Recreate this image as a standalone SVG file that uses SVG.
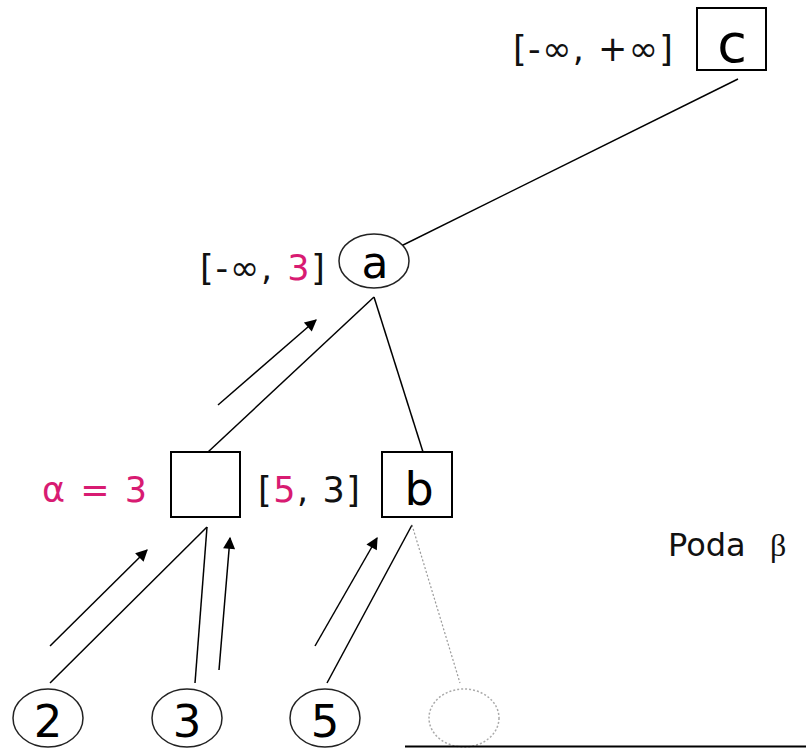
<svg xmlns="http://www.w3.org/2000/svg" width="806" height="748" viewBox="0 0 806 748">
<defs>
<style>
.box{fill:#fff;stroke:#000;stroke-width:2}
.circ{fill:#fff;stroke:#222;stroke-width:1.5}
.ghost{fill:none;stroke:#aaa;stroke-width:1.5;stroke-dasharray:2 2}
.edge{stroke:#000;stroke-width:1.5;fill:none}
.dot{stroke:#999;stroke-width:1.2;stroke-dasharray:2 2;fill:none}
.arr{stroke:#000;stroke-width:1.5;fill:none;marker-end:url(#ah)}
.lbl{font-family:"DejaVu Sans",Verdana,sans-serif;font-size:35px;fill:#111}
.nm{font-family:"DejaVu Sans",Verdana,sans-serif;font-size:44px;fill:#000;text-anchor:middle}
.mg{fill:#d81b72}
</style>
<marker id="ah" viewBox="0 0 10 10" refX="9" refY="5" markerWidth="14" markerHeight="12" markerUnits="userSpaceOnUse" orient="auto">
<path d="M0,0 L10,5 L0,10 z" fill="#000"/>
</marker>
</defs>
<g id="connectors">
<line class="edge" x1="738" y1="79" x2="387" y2="253"/>
<line class="edge" x1="374" y1="297" x2="208" y2="452"/>
<line class="edge" x1="374" y1="297" x2="423" y2="452"/>
<line class="arr" x1="218" y1="405" x2="316" y2="320"/>
<line class="edge" x1="207" y1="527" x2="50" y2="683"/>
<line class="arr" x1="50" y1="646" x2="147" y2="550"/>
<line class="edge" x1="207" y1="527" x2="195" y2="683"/>
<line class="arr" x1="219" y1="670" x2="230" y2="538"/>
<line class="edge" x1="412" y1="525" x2="327" y2="683"/>
<line class="arr" x1="315" y1="646" x2="377" y2="538"/>
<line class="dot" x1="412" y1="525" x2="460" y2="683"/>
</g>
<g id="node-c">
<rect class="box" x="697" y="8" width="69" height="62"/>
<text class="nm" x="732" y="62" style="font-size:54px">c</text>
<text class="lbl" x="513" y="61" textLength="160" lengthAdjust="spacing">[-∞, +∞]</text>
</g>
<g id="node-a">
<ellipse class="circ" cx="374" cy="261" rx="35" ry="27"/>
<text class="nm" x="375" y="278">a</text>
<text class="lbl" x="200" y="280" textLength="125" lengthAdjust="spacing">[-∞, <tspan class="mg">3</tspan>]</text>
</g>
<g id="node-left">
<rect class="box" x="171" y="452" width="69" height="65"/>
<text class="lbl mg" x="42" y="502" textLength="105" lengthAdjust="spacing">α = 3</text>
</g>
<g id="node-b">
<rect class="box" x="382" y="452" width="70" height="65"/>
<text class="nm" x="419" y="505" style="font-size:46px">b</text>
<text class="lbl" x="258" y="502" textLength="102" lengthAdjust="spacing">[<tspan class="mg">5</tspan>, 3]</text>
</g>
<g id="node-2">
<ellipse class="circ" cx="48" cy="718" rx="35" ry="29"/>
<text class="nm" x="48" y="737" style="font-size:45px">2</text>
</g>
<g id="node-3">
<ellipse class="circ" cx="187" cy="718" rx="35" ry="29"/>
<text class="nm" x="187" y="737" style="font-size:45px">3</text>
</g>
<g id="node-5">
<ellipse class="circ" cx="325" cy="718" rx="35" ry="29"/>
<text class="nm" x="325" y="737" style="font-size:45px">5</text>
</g>
<g id="node-pruned">
<ellipse class="ghost" cx="464" cy="718" rx="35" ry="29"/>
</g>
<line x1="405" y1="746.5" x2="806" y2="746.5" stroke="#000" stroke-width="2"/>
<g id="caption">
<text x="668" y="556" style="font-family:'DejaVu Sans',Verdana,sans-serif;font-size:32px;fill:#111">Poda</text>
<text x="770" y="556" style="font-family:'Liberation Serif',serif;font-size:32px;fill:#111">β</text>
</g>
</svg>
